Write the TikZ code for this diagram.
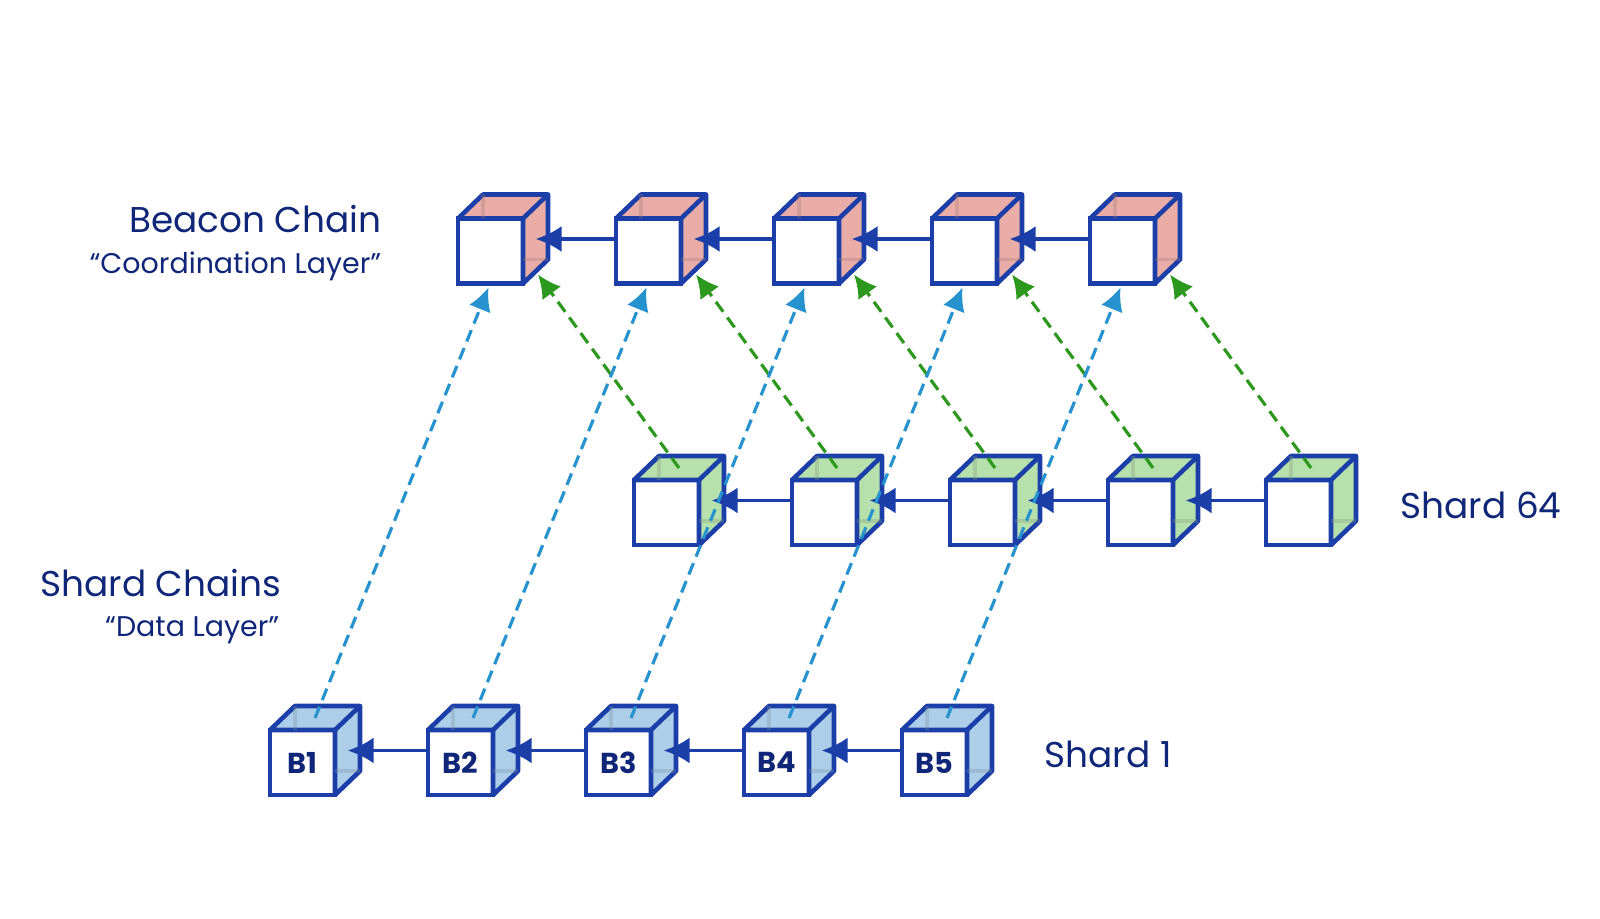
\documentclass[tikz,border=0pt]{standalone}
\usepackage{fontspec}
\setmainfont{Poppins}
\usetikzlibrary{arrows.meta, positioning, calc}

\definecolor{edgeblue}{RGB}{28,62,168}
\definecolor{inkblue}{RGB}{16,38,120}
\definecolor{beaconred}{RGB}{234,172,166}
\definecolor{shardgreen}{RGB}{182,224,172}
\definecolor{shardblue}{RGB}{172,206,232}
\definecolor{linkblue}{RGB}{38,146,206}
\definecolor{linkgreen}{RGB}{44,152,30}

% top and right faces of a block, with the back edges showing through
\newcommand{\cubesides}[2]{%
  \filldraw[fill=#2, draw=edgeblue, line width=1.3pt, line join=round]
    (#1.north west) -- ([shift={(2.5mm,2.4mm)}]#1.north west)
    -- ([shift={(2.5mm,2.4mm)}]#1.north east)
    -- ([shift={(2.5mm,2.4mm)}]#1.south east)
    -- (#1.south east) -- (#1.north east) -- cycle;
  \draw[#2!70!black, opacity=0.3, line width=1.1pt]
    ([xshift=2.5mm]#1.north west) -- ([shift={(2.5mm,2.4mm)}]#1.north west)
    ([yshift=2.4mm]#1.south east) -- ([shift={(2.5mm,2.4mm)}]#1.south east);
  \draw[edgeblue, line width=1.3pt] (#1.north east)
    -- ([shift={(2.5mm,2.4mm)}]#1.north east);
}

\tikzset{
  block/.style={draw=edgeblue, line width=1.3pt, fill=white, minimum size=6.5mm,
                inner sep=0pt, outer sep=0pt, font=\fontsize{8.2}{9}\selectfont\bfseries,
                text=inkblue},
  heading/.style={inner sep=0pt, text=inkblue, font=\fontsize{10.2}{12}\selectfont},
  subheading/.style={inner sep=0pt, text=inkblue, font=\fontsize{8.1}{9}\selectfont},
  chainarrow/.style={-{Latex[length=2.6mm, width=2.6mm]}, draw=edgeblue, line width=1.1pt},
  bluelink/.style={-{Latex[length=2.3mm, width=2.3mm]}, draw=linkblue, line width=0.9pt,
                   dash pattern=on 3.5pt off 2pt},
  greenlink/.style={-{Latex[length=2.3mm, width=2.3mm]}, draw=linkgreen, line width=0.9pt,
                    dash pattern=on 3.5pt off 2pt}
}

\begin{document}
\begin{tikzpicture}[node distance=9.3mm]
  \useasboundingbox (0,0) rectangle (16,-9.19);

  % beacon chain
  \node[block] (b1) at (4.905,-2.51) {};
  \node[block, right=of b1] (b2) {};
  \node[block, right=of b2] (b3) {};
  \node[block, right=of b3] (b4) {};
  \node[block, right=of b4] (b5) {};

  % shard 64
  \node[block] (m1) at (6.665,-5.125) {};
  \node[block, right=of m1] (m2) {};
  \node[block, right=of m2] (m3) {};
  \node[block, right=of m3] (m4) {};
  \node[block, right=of m4] (m5) {};

  % shard 1
  \node[block] (s1) at (3.025,-7.625) {B1};
  \node[block, right=of s1] (s2) {B2};
  \node[block, right=of s2] (s3) {B3};
  \node[block, right=of s3] (s4) {B4};
  \node[block, right=of s4] (s5) {B5};

  \foreach \n in {b1,b2,b3,b4,b5} {\cubesides{\n}{beaconred}}
  \foreach \n in {m1,m2,m3,m4,m5} {\cubesides{\n}{shardgreen}}
  \foreach \n in {s1,s2,s3,s4,s5} {\cubesides{\n}{shardblue}}

  % links inside each chain
  \foreach \r in {b,m,s} {
    \draw[chainarrow] ([yshift=1.2mm]\r2.west) -- ([shift={(1.25mm,1.2mm)}]\r1.east);
    \draw[chainarrow] ([yshift=1.2mm]\r3.west) -- ([shift={(1.25mm,1.2mm)}]\r2.east);
    \draw[chainarrow] ([yshift=1.2mm]\r4.west) -- ([shift={(1.25mm,1.2mm)}]\r3.east);
    \draw[chainarrow] ([yshift=1.2mm]\r5.west) -- ([shift={(1.25mm,1.2mm)}]\r4.east);
  }

  % crosslinks to the beacon chain
  \foreach \i in {1,...,5} {
    \draw[bluelink] ([shift={(1.25mm,1.2mm)}]s\i.north)
      -- ([shift={(-0.2mm,-0.4mm)}]b\i.south);
    \draw[greenlink] ([shift={(1.25mm,1.2mm)}]m\i.north)
      -- ([shift={(1.5mm,0.9mm)}]b\i.south east);
  }

  \node[heading, anchor=base east] (beacon) at (3.82,-2.33) {Beacon Chain};
  \node[subheading, anchor=base east] (coord) at (3.82,-2.74) {“Coordination Layer”};
  \node[heading, anchor=base east] (shards) at (2.82,-5.97) {Shard Chains};
  \node[subheading, anchor=base east] (data) at (2.80,-6.37) {“Data Layer”};
  \node[heading, anchor=base west] (top) at (14.00,-5.19) {Shard 64};
  \node[heading, anchor=base west] (bottom) at (10.44,-7.67) {Shard 1};
\end{tikzpicture}
\end{document}
